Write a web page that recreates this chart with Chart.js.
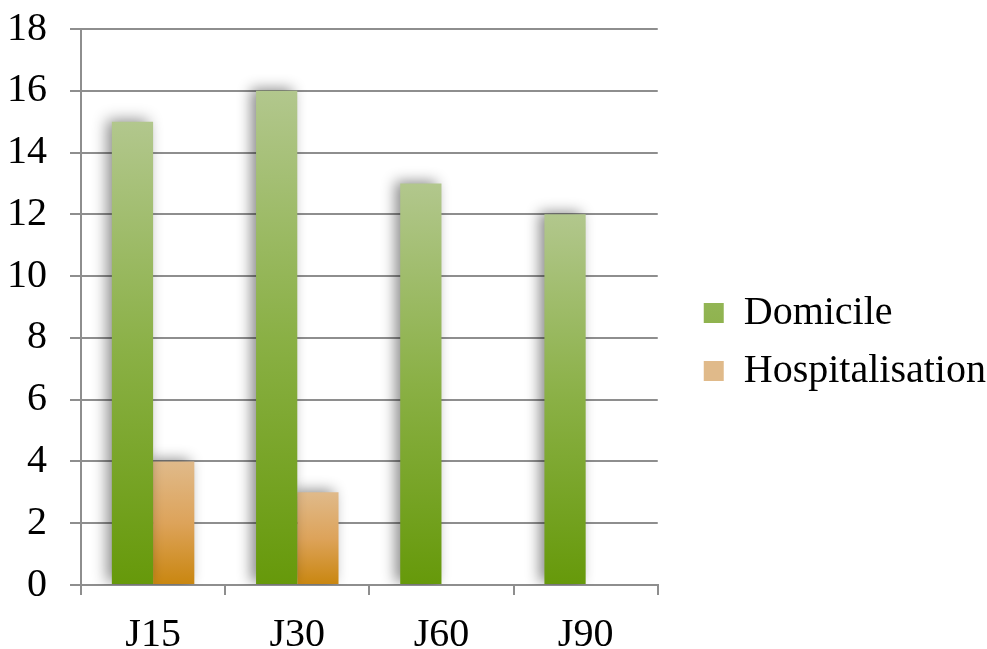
<!DOCTYPE html>
<html>
<head>
<meta charset="utf-8">
<script src="https://cdn.jsdelivr.net/npm/chart.js@4"></script>
<style>
  html, body { margin: 0; padding: 0; background: #fff; }
  #wrap { width: 987px; height: 649px; }
</style>
</head>
<body>
<div id="wrap"><canvas id="chart"></canvas></div>
<script>
const categories = ["J15", "J30", "J60", "J90"];
const domicile = [15, 16, 13, 12];
const hospitalisation = [4, 3, 0, 0];
const yTicks = [0, 2, 4, 6, 8, 10, 12, 14, 16, 18];

const GRID = "#8e8e8e";
const FONT = { family: "'Liberation Serif', 'Times New Roman', serif", size: 40 };

// Each bar gets its own vertical gradient: light at the top, dark at the base.
function barGradient(stops, solid) {
    return (ctx) => {
        if (ctx.type !== "data") {
            return solid;
        }
        const chart = ctx.chart;
        const y = chart.scales.y;
        if (!chart.chartArea || !y) {
            return solid;
        }
        const top = y.getPixelForValue(ctx.raw);
        const base = y.getPixelForValue(0);
        if (!(base - top > 0)) {
            return solid;
        }
        const g = chart.ctx.createLinearGradient(0, top, 0, base);
        stops.forEach(([at, c]) => g.addColorStop(at, c));
        return g;
    };
}

const greenStops = [[0, "#b2c78d"], [0.5, "#8ab045"], [1, "#66990a"]];
const orangeStops = [[0, "#e0ba8a"], [0.5, "#dda35a"], [1, "#c9860f"]];

// Soft grey shadow to the upper left of the bars.
const barShadow = {
    id: "barShadow",
    beforeDatasetsDraw(chart) {
        const c = chart.ctx;
        c.save();
        c.shadowColor = "rgba(0,0,0,0.45)";
        c.shadowBlur = 14;
        c.shadowOffsetX = -5;
        c.shadowOffsetY = -2;
    },
    afterDatasetsDraw(chart) {
        chart.ctx.restore();
    },
};

// Nudge the legend block to where the reference puts it (and give the
// long label room up to the canvas edge).
const legendShift = {
    id: "legendShift",
    afterLayout(chart) {
        const lg = chart.legend;
        if (!lg) return;
        lg.left += 28;
        lg.right = chart.width;
        lg.width = lg.right - lg.left;
        lg.top += 3;
        lg.bottom += 3;
    },
};

new Chart(document.getElementById("chart"), {
    type: "bar",
    data: {
        labels: categories,
        datasets: [
            {
                label: "Domicile",
                data: domicile,
                backgroundColor: barGradient(greenStops, "#8ab045"),
                borderWidth: 0,
            },
            {
                label: "Hospitalisation",
                data: hospitalisation,
                backgroundColor: barGradient(orangeStops, "#dda35a"),
                borderWidth: 0,
            },
        ],
    },
    options: {
        responsive: true,
        maintainAspectRatio: false,
        animation: false,
        categoryPercentage: 0.572,
        barPercentage: 1,
        layout: { padding: { top: 29, right: 110, left: 0, bottom: 0 } },
        plugins: {
            tooltip: { enabled: false },
            legend: {
                position: "right",
                labels: {
                    boxWidth: 20,
                    boxHeight: 20,
                    padding: 18,
                    color: "#000",
                    font: FONT,
                },
            },
        },
        scales: {
            x: {
                grid: {
                    offset: true,
                    drawOnChartArea: false,
                    tickLength: 10,
                    color: GRID,
                    lineWidth: 2,
                },
                border: { color: GRID, width: 2 },
                ticks: { color: "#000", font: FONT, padding: 16 },
                afterFit(scale) {
                    scale.height = 64;
                },
            },
            y: {
                min: 0,
                max: 18,
                afterBuildTicks(scale) {
                    scale.ticks = yTicks.map((v) => ({ value: v }));
                },
                grid: { color: GRID, lineWidth: 2, tickLength: 11 },
                border: { color: GRID, width: 2 },
                ticks: { color: "#000", font: FONT, padding: 23 },
                afterFit(scale) {
                    scale.width = 81;
                    scale.paddingTop = 0;
                    scale.paddingBottom = 0;
                },
            },
        },
    },
    plugins: [barShadow, legendShift],
});
</script>
</body>
</html>
